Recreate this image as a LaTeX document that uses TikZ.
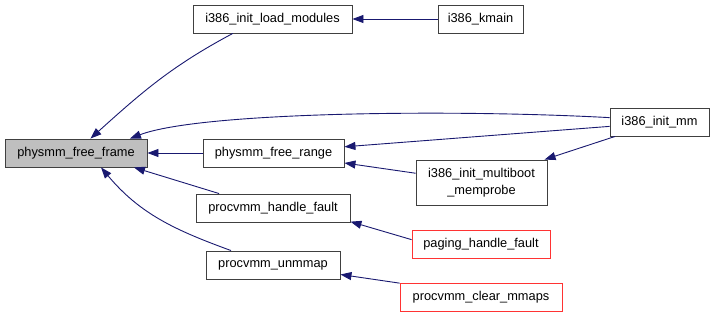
\documentclass[tikz,border=0pt]{standalone}
\usepackage{fontspec}
\setmainfont{Liberation Sans}
\usetikzlibrary{arrows.meta}
\definecolor{edgeBlue}{HTML}{191970}
\definecolor{boxRed}{HTML}{FF3333}
\definecolor{boxGray}{HTML}{404040}
\definecolor{mainFill}{HTML}{BFBFBF}
\begin{document}
\begin{tikzpicture}
[x=1pt,y=1pt,%
  lineDecorate/.style={-{Triangle[length=11pt,width=8pt]},draw=edgeBlue,line width=0.9pt},%
  nodeDecorate/.style={shape=rectangle,draw,line width=0.9pt,inner sep=0pt,
    minimum height=28pt,font=\fontsize{12.8}{17}\selectfont}]
\useasboundingbox (0,0) rectangle (715,317);
%% function boxes
\foreach \nodename/\x/\y/\w/\border/\inside/\fname in {
  frame/76/164/142/boxGray/mainFill/physmm\_free\_frame,
  loadmods/272.5/298/159/boxGray/white/i386\_init\_load\_modules,
  kmain/480.5/298/85/boxGray/white/i386\_kmain,
  range/273.5/164/141/boxGray/white/physmm\_free\_range,
  initmm/659.5/195/99/boxGray/white/i386\_init\_mm,
  handle/273/109/154/boxGray/white/procvmm\_handle\_fault,
  paging/481/72.5/138/boxRed/white/paging\_handle\_fault,
  unmmap/273/52/134/boxGray/white/procvmm\_unmmap,
  clear/481/19.5/162/boxRed/white/procvmm\_clear\_mmaps}
{
  \node (\nodename) at (\x,\y) [nodeDecorate,minimum width=\w pt,draw=\border,fill=\inside] {\fname};
}
\node (memprobe) at (481.5,134.5) [nodeDecorate,minimum width=131pt,minimum height=45pt,
  align=center,draw=boxGray,fill=white] {i386\_init\_multiboot\\\_memprobe};
%% calls
\path
\foreach \startnode/\endnode in {
  kmain.west/loadmods.east, range.west/frame.east, initmm.185/range.5,
  memprobe.172/range.352, initmm.198/memprobe.20, handle.165/frame.346,
  paging.176/handle.350, clear.170/unmmap.352}
{
  (\startnode) edge[lineDecorate] (\endnode)
};
\draw[lineDecorate] (loadmods.200) to[out=208,in=42] (frame.45);
\draw[lineDecorate] (initmm.175) .. controls (450,208) and (200,205) .. (frame.15);
\draw[lineDecorate] (unmmap.161) to[out=160,in=-50] (frame.330);
\end{tikzpicture}
\end{document}
